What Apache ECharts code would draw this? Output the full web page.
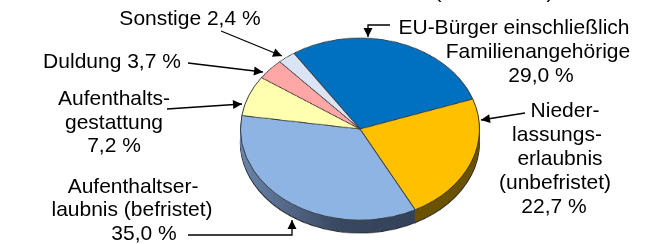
<!DOCTYPE html>
<html>
<head>
<meta charset="utf-8" />
<title>Aufenthaltsstatus</title>
<style>
  html, body { margin: 0; padding: 0; background: #fff; overflow: hidden; }
  #pie { position: absolute; left: 0; top: 0; width: 664px; height: 320px;
         transform: scaleY(0.7615); transform-origin: 360px 129px; }
  #labels { position: absolute; left: 0; top: 0; width: 664px; height: 244px; }
</style>
</head>
<body>
<div id="pie"></div>
<div id="labels"></div>
<script src="https://cdn.jsdelivr.net/npm/echarts@6/dist/echarts.min.js"></script>
<script>
// data
var categories = ['EU-Bürger einschließlich Familienangehörige', 'Niederlassungserlaubnis (unbefristet)',
  'Aufenthaltserlaubnis (befristet)', 'Aufenthaltsgestattung', 'Duldung', 'Sonstige'];
var values = [29.0, 22.7, 35.0, 7.2, 3.7, 2.4];
var topColors = ['#0070c0', '#ffc000', '#8db4e2', '#ffffaf', '#ffa6a6', '#dae4f5'];
var sideColors = ['#003a66', '#6b5200',
  { type: 'linear', x: 0, y: 0, x2: 1, y2: 0, colorStops: [
    { offset: 0, color: '#6a85ac' }, { offset: 0.55, color: '#3a4962' }, { offset: 1, color: '#334259' }] },
  '#8a8a50', '#8a5555', '#6a7585'];
// label text lines (percentage is added from values)
var labelLines = [
  ['EU-Bürger einschließlich', 'Familienangehörige'],
  ['Nieder-', 'lassungs-', 'erlaubnis', '(unbefristet)'],
  ['Aufenthaltser-', 'laubnis (befristet)'],
  ['Aufenthalts-', 'gestattung'],
  ['Duldung'],
  ['Sonstige']
];

function pct(v) { return v.toFixed(1).replace('.', ',') + ' %'; }

var pieChart = echarts.init(document.getElementById('pie'));
var cx = 360, cy = 129, r = 119.5, depth = 17;
var series = [];
for (var k = depth; k >= 1; k--) {
  series.push({
    type: 'pie', z: 1, silent: true, animation: false,
    center: [cx, cy + k], radius: [0, r], startAngle: 123.6, clockwise: true,
    label: { show: false }, labelLine: { show: false },
    itemStyle: { borderColor: k === depth ? '#222' : 'transparent', borderWidth: k === depth ? 1.2 : 0 },
    data: values.map(function (v, i) {
      return { name: categories[i], value: v, itemStyle: { color: sideColors[i] } };
    })
  });
}
series.push({
  type: 'pie', z: 2, silent: true, animation: false,
  center: [cx, cy], radius: [0, r], startAngle: 123.6, clockwise: true,
  label: { show: false }, labelLine: { show: false },
  itemStyle: { borderColor: '#3a3a3a', borderWidth: 1 },
  data: values.map(function (v, i) {
    return { name: categories[i], value: v, itemStyle: { color: topColors[i] } };
  })
});
pieChart.setOption({ backgroundColor: 'transparent', series: series });

// labels and arrows
var font = '21px "Liberation Sans", Arial, sans-serif';
var g = [];
function txt(s, x, baseline) {
  g.push({ type: 'text', style: { text: s, x: x, y: baseline - 7, font: font, fill: '#000',
    textAlign: 'center', textVerticalAlign: 'middle' } });
}
function line(pts) {
  g.push({ type: 'polyline', shape: { points: pts }, style: { stroke: '#000', lineWidth: 1.3, fill: null } });
}
function head(tip, from) {
  var dx = tip[0] - from[0], dy = tip[1] - from[1];
  var len = Math.sqrt(dx * dx + dy * dy); dx /= len; dy /= len;
  var L = 9, W = 4.5;
  var bx = tip[0] - dx * L, by = tip[1] - dy * L;
  g.push({ type: 'polygon', shape: { points: [tip, [bx - dy * W, by + dx * W], [bx + dy * W, by - dx * W]] },
    style: { fill: '#000' } });
}
function arrow(pts) {
  line(pts);
  head(pts[pts.length - 1], pts[pts.length - 2]);
}

// cut-off line at top
txt('(                  )', 494, -1);

// EU-Bürger
txt(labelLines[0][0], 514, 35);
txt(labelLines[0][1], 538, 59);
txt(pct(values[0]), 541, 83);
arrow([[390, 25], [368, 25], [368, 37]]);

// Niederlassungserlaubnis
txt(labelLines[1][0], 565, 118);
txt(labelLines[1][1], 557, 142);
txt(labelLines[1][2], 560, 166);
txt(labelLines[1][3], 555, 190);
txt(pct(values[1]), 554, 214);
arrow([[525, 113], [481, 120]]);

// Aufenthaltserlaubnis
txt(labelLines[2][0], 133, 194);
txt(labelLines[2][1], 132, 217);
txt(pct(values[2]), 144, 241);
arrow([[188, 235], [292, 235], [292, 220]]);

// Aufenthaltsgestattung
txt(labelLines[3][0], 114, 106);
txt(labelLines[3][1], 114, 130);
txt(pct(values[3]), 114, 153);
arrow([[167, 109], [242, 104]]);

// Duldung
txt(labelLines[4][0] + ' ' + pct(values[4]), 112, 69);
arrow([[188, 63], [263, 72]]);

// Sonstige
txt(labelLines[5][0] + ' ' + pct(values[5]), 190, 26);
arrow([[221, 31], [282, 56]]);

var labelChart = echarts.init(document.getElementById('labels'));
labelChart.setOption({ backgroundColor: 'transparent', animation: false, graphic: g });
</script>
</body>
</html>
